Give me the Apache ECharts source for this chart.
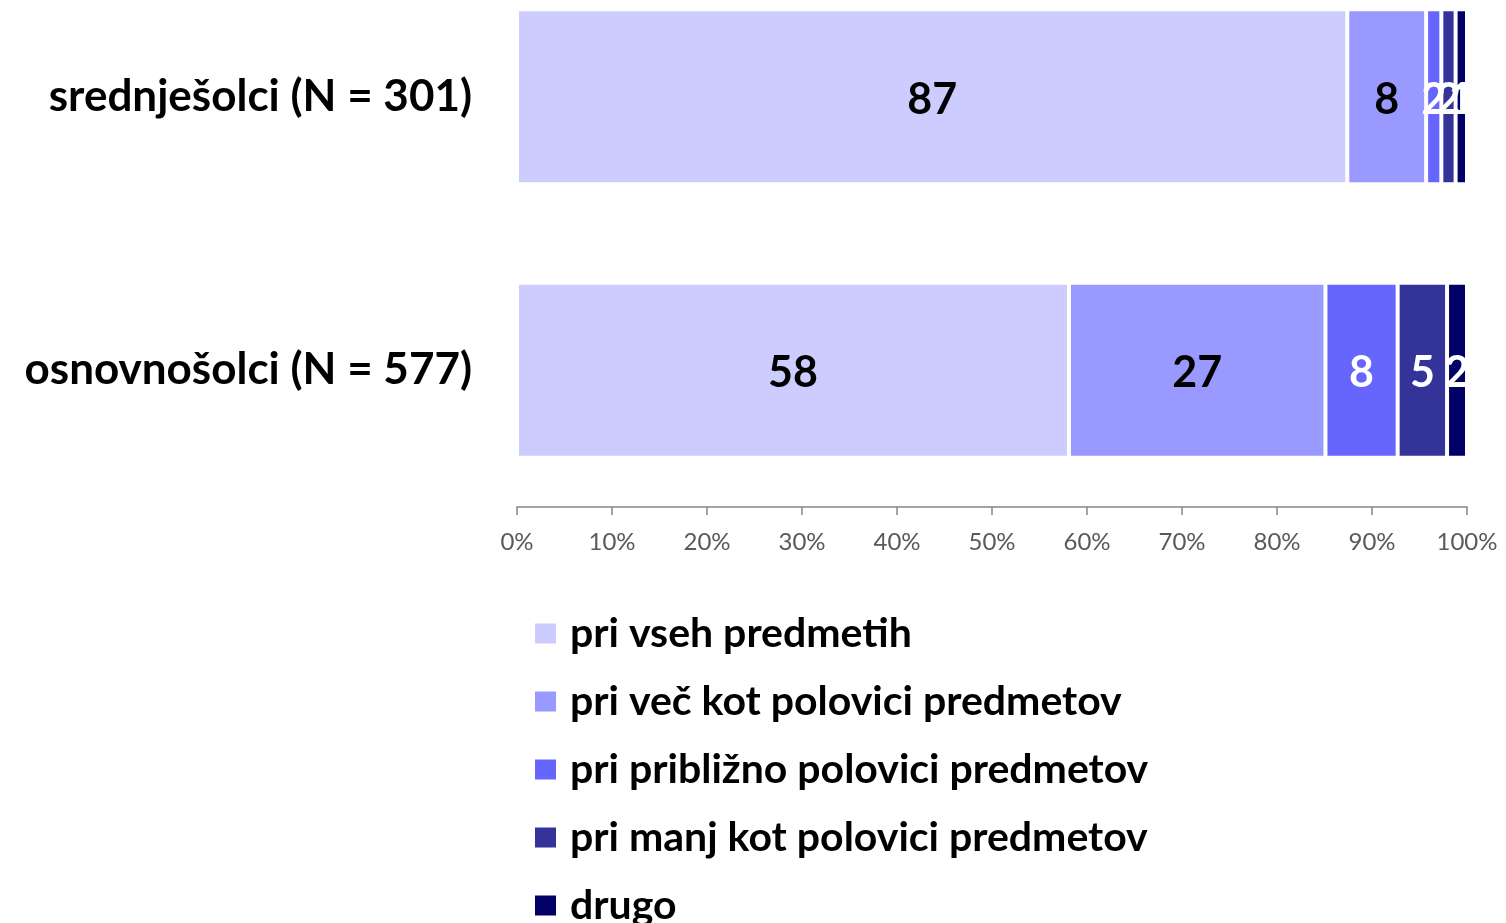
<!DOCTYPE html>
<html><head><meta charset="utf-8">
<script src="https://cdn.jsdelivr.net/npm/echarts@6/dist/echarts.min.js"></script>
<style>html,body{margin:0;padding:0;background:#fff;overflow:hidden}#c{position:relative;top:-40px;width:1506px;height:963px}</style>
</head><body><div id="c"></div>
<script>
const categories = ['osnovnošolci (N = 577)', 'srednješolci (N = 301)'];
const seriesNames = ['pri vseh predmetih', 'pri več kot polovici predmetov', 'pri približno polovici predmetov', 'pri manj kot polovici predmetov', 'drugo'];
const vseh = [58.1, 87.4];
const vecKot = [27.0, 8.3];
const priblizno = [7.6, 1.6];
const manjKot = [5.2, 1.5];
const drugo = [2.1, 1.2];
const tickLabels = ['0%','10%','20%','30%','40%','50%','60%','70%','80%','90%','100%'];

const colors = ['#CCCCFF', '#9999FF', '#6666FF', '#333399', '#000066'];
const labelColors = ['#000000', '#000000', '#ffffff', '#ffffff', '#ffffff'];
const allData = [vseh, vecKot, priblizno, manjKot, drugo];
const FONT = 'Lato';

const chart = echarts.init(document.getElementById('c'), null, {renderer: 'canvas'});
chart.setOption({
  animation: false,
  backgroundColor: '#ffffff',
  grid: {left: 517, right: 39, top: 0, height: 547, containLabel: false},
  legend: {
    orient: 'vertical', left: 528, top: 648, height: 400,
    itemWidth: 23, itemHeight: 22, itemGap: 27,
    icon: 'rect',
    textStyle: {fontFamily: FONT, fontWeight: 'bold', fontSize: 41, color: '#000', padding: [0,0,0,8]},
    data: seriesNames
  },
  xAxis: {
    type: 'value', min: 0, max: 100, interval: 10,
    axisLine: {show: true, lineStyle: {color: '#868686', width: 1.5}},
    axisTick: {show: true, length: 8, lineStyle: {color: '#868686', width: 1.5}},
    splitLine: {show: false},
    axisLabel: {
      fontFamily: FONT, fontSize: 24, color: '#595959', margin: 23,
      formatter: function (v) { return tickLabels[Math.round(v / 10)]; }
    }
  },
  yAxis: {
    type: 'category', data: categories,
    axisLine: {show: false}, axisTick: {show: false},
    axisLabel: {fontFamily: FONT, fontWeight: 'bold', fontSize: 44, color: '#000', margin: 45}
  },
  series: seriesNames.map(function (name, i) {
    return {
      name: name, type: 'bar', stack: 'total', barWidth: 175,
      itemStyle: {color: colors[i], borderColor: '#ffffff', borderWidth: 2},
      label: {
        show: true, position: 'inside', offset: [0, 3],
        fontFamily: FONT, fontWeight: 'bold', fontSize: 43, color: labelColors[i],
        formatter: function (p) { return Math.round(p.value); }
      },
      data: allData[i]
    };
  })
});
</script>
</body></html>
